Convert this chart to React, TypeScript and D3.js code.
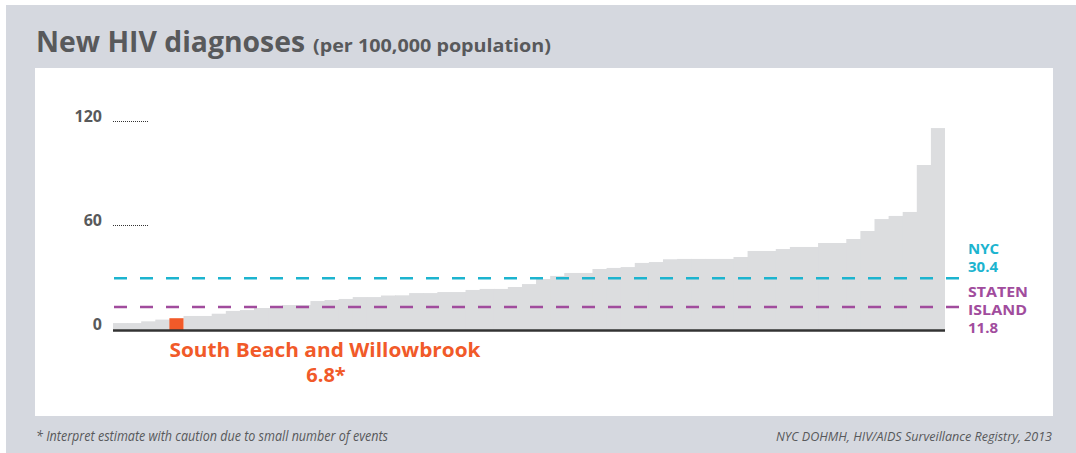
import React from "react";
import * as d3 from "d3";

// Rates of new HIV diagnoses per 100,000, NYC neighborhoods sorted ascending
const rates: number[] = [
  4.0, 4.0, 5.0, 6.0, 6.8, 8.1, 8.1, 9.4, 11.0, 11.5,
  12.7, 12.7, 14.4, 14.4, 16.7, 17.3, 17.9, 19.0, 19.0, 19.9,
  20.0, 21.3, 21.3, 21.9, 21.9, 23.1, 23.7, 23.7, 24.8, 26.5,
  29.4, 31.2, 32.9, 32.9, 35.2, 35.8, 36.3, 38.7, 39.2, 40.8,
  41.0, 41.0, 41.0, 41.0, 42.1, 45.6, 45.6, 46.7, 47.9, 47.9,
  50.2, 50.2, 52.5, 57.1, 64.0, 65.8, 68.1, 95.2, 116.5,
];
const highlightIndex = 4;
const highlightName = "South Beach and Willowbrook";
const highlightValue = "6.8*";
const yTicks: number[] = [0, 60, 120];
const nycRate = 30.4;
const statenRate = 11.8;

const TEXT = "#58595b";
const FONT = "'Open Sans', 'Noto Sans', sans-serif";

export default function App() {
  const x = d3
    .scaleBand<number>()
    .domain(rates.map((_, i) => i))
    .range([113, 945])
    .padding(0);
  const y = d3.scaleLinear().domain([0, 120]).range([330, 122]);
  const last = rates.length - 1;

  return (
    <svg
      width={1076}
      height={453}
      style={{ position: "absolute", left: 0, top: 0 }}
      fontFamily={FONT}
    >
      <rect x={0} y={0} width={1076} height={453} fill="#ffffff" />
      <rect x={6} y={5} width={1070} height={448} fill="#d5d8df" />
      <rect x={35} y={68} width={1018} height={348} fill="#ffffff" />

      <text
        x={36}
        y={52}
        fill={TEXT}
        fontSize={29}
        fontWeight={700}
        textLength={269}
        lengthAdjust="spacingAndGlyphs"
      >
        New HIV diagnoses
      </text>
      <text
        x={313}
        y={52}
        fill={TEXT}
        fontSize={18}
        fontWeight={700}
        textLength={238}
        lengthAdjust="spacingAndGlyphs"
      >
        (per 100,000 population)
      </text>

      {/* bars */}
      {rates.map((v, i) =>
        i === highlightIndex ? null : (
          <rect
            key={i}
            x={x(i)!}
            y={y(v)}
            width={x.bandwidth() + (i === last ? 0 : 1)}
            height={y(0) - y(v)}
            fill="#dcdddf"
          />
        )
      )}
      <rect
        x={x(highlightIndex)!}
        y={y(rates[highlightIndex])}
        width={x.bandwidth()}
        height={y(0) - y(rates[highlightIndex])}
        fill="#f15a29"
      />

      {/* y ticks */}
      {yTicks.map((t) => (
        <g key={t}>
          <text
            x={102}
            y={y(t)}
            textAnchor="end"
            fontSize={16}
            fontWeight={700}
            fill={TEXT}
          >
            {t}
          </text>
          {t !== 0 && (
            <line
              x1={113}
              x2={148}
              y1={y(t) - 0.5}
              y2={y(t) - 0.5}
              stroke="#333"
              strokeWidth={1}
              strokeDasharray="1,1"
            />
          )}
        </g>
      ))}

      {/* reference lines */}
      <line
        x1={114}
        x2={962}
        y1={y(nycRate) + 1}
        y2={y(nycRate) + 1}
        stroke="#1cb4cf"
        strokeWidth={2.5}
        strokeDasharray="13,13"
      />
      <line
        x1={114}
        x2={962}
        y1={y(statenRate) - 2.5}
        y2={y(statenRate) - 2.5}
        stroke="#a14c9d"
        strokeWidth={2.5}
        strokeDasharray="13,13"
      />

      {/* baseline */}
      <line x1={113} x2={945} y1={330.5} y2={330.5} stroke="#333" strokeWidth={2.5} />

      {/* right labels */}
      <g fontSize={15} fontWeight={700}>
        <text x={968} y={254} fill="#1cb4cf">NYC</text>
        <text x={968} y={272} fill="#1cb4cf">{nycRate.toFixed(1)}</text>
        <text x={968} y={297} fill="#a14c9d" textLength={60} lengthAdjust="spacingAndGlyphs">STATEN</text>
        <text x={968} y={315} fill="#a14c9d" textLength={59} lengthAdjust="spacingAndGlyphs">ISLAND</text>
        <text x={968} y={333} fill="#a14c9d">{statenRate.toFixed(1)}</text>
      </g>

      {/* highlight label */}
      <text
        x={325}
        y={357}
        textAnchor="middle"
        fontSize={20}
        fontWeight={700}
        fill="#f15a29"
        textLength={311}
        lengthAdjust="spacingAndGlyphs"
      >
        {highlightName}
      </text>
      <text x={326} y={382} textAnchor="middle" fontSize={20} fontWeight={700} fill="#f15a29">
        {highlightValue}
      </text>

      {/* footer */}
      <text
        x={36}
        y={441}
        fontSize={14}
        fontStyle="italic"
        fill={TEXT}
        textLength={352}
        lengthAdjust="spacingAndGlyphs"
      >
        * Interpret estimate with caution due to small number of events
      </text>
      <text
        x={776}
        y={441}
        fontSize={13}
        fontStyle="italic"
        fill={TEXT}
        textLength={276}
        lengthAdjust="spacingAndGlyphs"
      >
        NYC DOHMH, HIV/AIDS Surveillance Registry, 2013
      </text>
    </svg>
  );
}
